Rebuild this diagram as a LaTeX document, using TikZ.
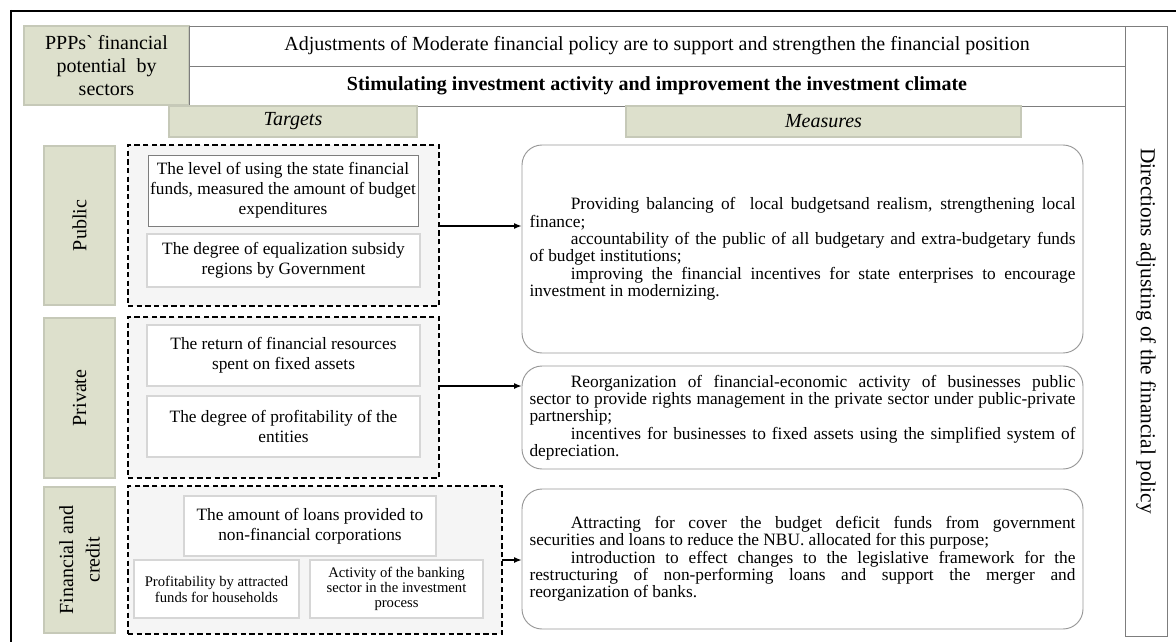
\documentclass[tikz,border=0pt]{standalone}
\usepackage{fontspec}
\setmainfont{Liberation Serif}[Ligatures=TeXOff]
\usepackage{xcolor}
\usetikzlibrary{arrows.meta}

\definecolor{sectorgreen}{RGB}{221,224,204}
\definecolor{sectoredge}{RGB}{198,201,184}
\definecolor{groupgray}{RGB}{245,245,245}
\definecolor{linegray}{RGB}{125,125,125}
\definecolor{boxedge}{RGB}{214,214,214}

\newcommand{\nohyph}{\hyphenpenalty=10000 \exhyphenpenalty=10000\relax}

\begin{document}
\begin{tikzpicture}[x=0.75pt,y=-0.75pt,
  every node/.style={inner sep=0pt,outer sep=0pt},
  wh/.style 2 args={minimum width={#1*0.75pt},minimum height={#2*0.75pt}},
  cellbox/.style={draw=linegray,line width=0.6pt},
  sectorbox/.style={fill=sectorgreen,draw=sectoredge,line width=0.9pt,align=center,font=\fontsize{15}{20}\selectfont},
  groupbox/.style={draw=black,fill=groupgray,line width=1.3pt,dash pattern=on 4pt off 2.5pt},
  targetbox/.style={fill=white,draw=boxedge,line width=1pt,align=center,font=\fontsize{13}{15}\selectfont},
  measurebox/.style={draw=linegray!80,fill=white,line width=0.7pt,rounded corners=15pt,text width=409.5pt,align=justify,
    font=\fontsize{13}{13}\selectfont},
  linkarrow/.style={line width=1.8pt,-{Latex[length=6pt,width=4.5pt]}}
]
\useasboundingbox (0,0) rectangle (1176,642);

% frame
\draw [line width=2.2pt] (10,11) -- (1176,11);
\draw [line width=2.2pt] (11,10) -- (11,642);

% heading table
\node [sectorbox,wh={165}{79},font=\fontsize{15}{17.3}\selectfont] (ppp) at (106.5,65.5) {PPPs` financial\\potential\ \ by\\sectors};
\node [cellbox,wh={936}{40},font=\fontsize{15}{17}\selectfont] (adj) at (657,46) {Adjustments of Moderate financial policy are to support and strengthen the financial position};
\node [cellbox,wh={936}{40},font=\fontsize{15}{17}\selectfont\bfseries] (stim) at (657,86) {Stimulating investment activity and improvement the investment climate};
\node [cellbox,rotate=-90,wh={610}{42},font=\fontsize{16}{18}\selectfont] (dir) at (1146,331) {Directions adjusting of the financial policy};

\node [sectorbox,wh={248}{31},font=\fontsize{15}{17}\selectfont\itshape] (targets) at (293,121.5) {Targets};
\node [sectorbox,wh={395}{31},font=\fontsize{15}{17}\selectfont\itshape] (measures) at (823.5,121.5) {Measures};

% sectors
\node [sectorbox,rotate=90,wh={159}{71}] (public) at (79.5,225.5) {Public};
\node [sectorbox,rotate=90,wh={160}{71}] (private) at (79.5,398) {Private};
\node [sectorbox,rotate=90,wh={146}{71}] (fincredit) at (79.5,560) {Financial and\\credit};

% target groups
\node [groupbox,wh={311}{161}] (gpub) at (283.5,225.5) {};
\node [groupbox,wh={311}{161}] (gpriv) at (283.5,397.5) {};
\node [groupbox,wh={374}{148}] (gfin) at (315,560) {};

\node [targetbox,draw=linegray,line width=0.6pt,wh={270}{71}] (t1) at (283,190.5) {The level of using the state financial\\funds, measured the amount of budget\\expenditures};
\node [targetbox,wh={273}{53}] (t2) at (283.5,260.5) {The degree of equalization subsidy\\regions by Government};

\node [targetbox,wh={273}{61}] (p1) at (283.5,355.5) {The return of financial resources\\spent on fixed assets};
\node [targetbox,wh={273}{61}] (p2) at (283.5,426.5) {The degree of profitability of the\\entities};

\node [targetbox,wh={252}{60}] (f1) at (310,526) {The amount of loans provided to\\non-financial corporations};
\node [targetbox,wh={165}{58},font=\fontsize{11}{12}\selectfont] (f2) at (216.5,589) {Profitability by attracted\\funds for households};
\node [targetbox,wh={173}{58},font=\fontsize{11}{11.3}\selectfont] (f3) at (396.5,589) {Activity of the banking\\sector in the investment\\process};

% measures
\node [measurebox,wh={561}{208}] (m1) at (802.5,249) {\nohyph
\hspace*{31pt}Providing balancing of\ \ local budgetsand realism, strengthening local\linebreak finance;\par
\hspace*{31pt}accountability of the public of all budgetary and extra-budgetary funds\linebreak of budget institutions;\par
\hspace*{31pt}improving the financial incentives for state enterprises to encourage\linebreak investment in modernizing.};
\node [measurebox,wh={561}{103}] (m2) at (802.5,417.5) {\nohyph
\hspace*{31pt}Reorganization of financial-economic activity of businesses public\linebreak sector to provide rights management in the private sector under public-private\linebreak partnership;\par
\hspace*{31pt}incentives for businesses to fixed assets using the simplified system of\linebreak depreciation.};
\node [measurebox,wh={561}{140}] (m3) at (802.5,559) {\nohyph
\hspace*{31pt}Attracting for cover the budget deficit funds from government\linebreak securities and loans to reduce the NBU. allocated for this purpose;\par
\hspace*{31pt}introduction to effect changes to the legislative framework for the\linebreak restructuring of non-performing loans and support the merger and\linebreak reorganization of banks.};

% links
\draw [linkarrow] (gpub.east |- t1.south) -- (m1.west |- t1.south);
\draw [linkarrow] (gpriv.east |- p1.south) -- (m2.west |- p1.south);
\draw [linkarrow] (gfin.east) -- (gfin.east -| m3.west);
\end{tikzpicture}
\end{document}
